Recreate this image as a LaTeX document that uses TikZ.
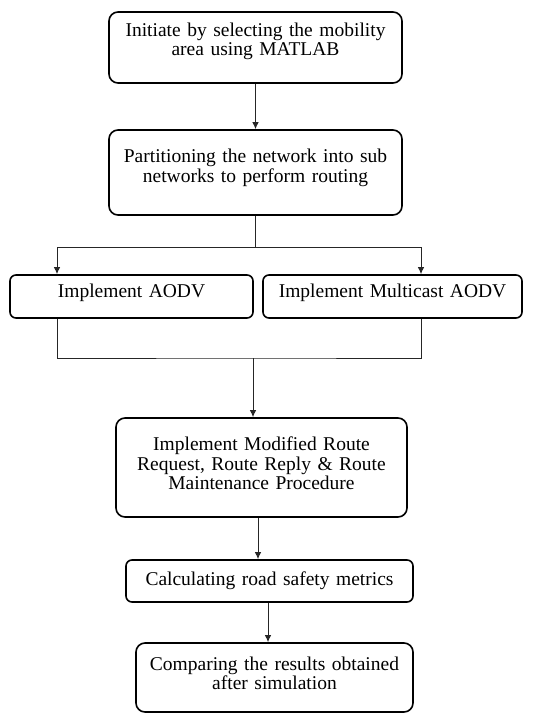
\documentclass[tikz,border=0pt]{standalone}
\usepackage{fontspec}
\setmainfont{Liberation Serif}
\usetikzlibrary{shapes,arrows,arrows.meta,positioning}

\begin{document}
\begin{tikzpicture}[x=1pt, y=1pt, node distance=2cm, auto]
    \tikzstyle{block} = [rectangle, draw, line width=1.6pt, rounded corners=9pt,
        align=center, inner sep=4pt, font=\fontsize{19.5}{19.5}\selectfont]
    \tikzstyle{line} = [draw, line width=1pt, black!85, -{Latex[length=7pt, width=6.5pt]}]
    \useasboundingbox (0,0) rectangle (533,-715);

    \node [block, text width=285pt, minimum height=71pt] (select) at (255.5,-47.5)
        {Initiate by selecting the mobility\\area using MATLAB\\[-3.3pt]\mbox{}};
    \node [block, text width=285pt, minimum height=85pt, below of=select, node distance=125pt] (partition)
        {Partitioning the network into sub\\networks to perform routing\\[-6.3pt]\mbox{}};
    \node [block, text width=235pt, minimum height=43pt, rounded corners=6pt] (aodv) at (131.5,-296.5)
        {Implement AODV\\[-7.3pt]\mbox{}};
    \node [block, text width=251pt, minimum height=43pt, rounded corners=6pt, right of=aodv, node distance=261pt] (maodv)
        {Implement Multicast AODV\\[-7.3pt]\mbox{}};
    \node [block, text width=283pt, minimum height=99pt, below of=partition, node distance=295pt, xshift=6pt] (modified)
        {Implement Modified Route\\Request, Route Reply \& Route\\Maintenance Procedure\\[-11.5pt]\mbox{}};
    \node [block, text width=279pt, minimum height=42pt, rounded corners=6pt, below of=modified, node distance=113.5pt, xshift=8pt] (calc)
        {Calculating road safety metrics};
    \node [block, text width=269pt, minimum height=69pt, below of=calc, node distance=96.5pt, xshift=5pt] (compare)
        {Comparing the results obtained\\after simulation\\[-10.5pt]\mbox{}};

    \coordinate (split) at (255.5,-247);
    \coordinate (join) at (253,-358);

    \path [line] (select) -- (partition);
    \draw [line width=1pt, black!85] (partition) -- (split);
    \path [line] (split) -| ([xshift=-74.5pt]aodv.north);
    \path [line] (split) -| ([xshift=28.5pt]maodv.north);
    \draw [line width=1pt, black!85] ([xshift=-74.5pt]aodv.south) |- (join) -| ([xshift=28.5pt]maodv.south);
    \path [line] (join) -- (join |- modified.north);
    \path [line] ([xshift=-3.5pt]modified.south) -- ([xshift=-3.5pt]modified.south |- calc.north);
    \path [line] ([xshift=-1.5pt]calc.south) -- ([xshift=-1.5pt]calc.south |- compare.north);
\end{tikzpicture}
\end{document}
